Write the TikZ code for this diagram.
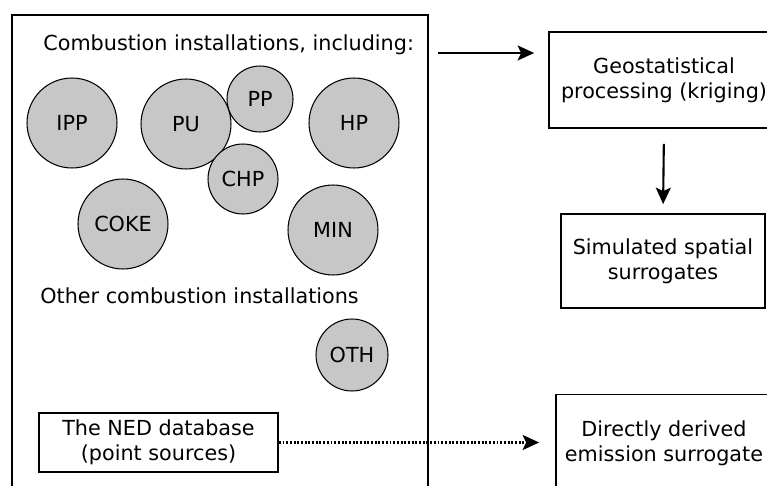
\documentclass[tikz,border=0pt]{standalone}
\usepackage{fontspec}
\setmainfont{DejaVu Sans}
\usetikzlibrary{arrows.meta}
\tikzset{
	plant/.style={circle, draw=black, line width=0.6pt, fill=black!22, inner sep=0pt, minimum size=#1},
	plant/.default=1.8cm,
	stepbox/.style={draw=black, line width=1pt, align=center, inner sep=0pt},
	flow/.style={line width=1.2pt, -{Stealth[length=3.3mm, width=3mm, inset=0.7mm]}},
}

\begin{document}
\begin{tikzpicture}[x=0.02cm, y=-0.02cm, font=\fontsize{11.8}{14.2}\selectfont]
		%%%%% START %%%%%
		\useasboundingbox (0,0) rectangle (767,486);
		\clip (0,0) rectangle (767,486);
		
		% left frame (cut at the bottom)
		\draw[line width=1pt] (12,510) -- (12,15) -- (428,15) -- (428,510);
		
		\node[anchor=west, inner sep=0pt] (incl) at (43,45) {Combustion installations, including:};
		
		\node[plant] (ipp) at (72,123) {IPP};
		\node[plant] (pu) at (186,124) {PU};
		\node[plant=1.32cm] (pp) at (260,99) {PP};
		\node[plant] (hp) at (354,123) {HP};
		\node[plant=1.4cm] (chp) at (243,179) {CHP};
		\node[plant] (coke) at (123,224) {COKE};
		\node[plant] (min) at (333,230) {MIN};
		
		\node[anchor=west, inner sep=0pt] (other) at (40,296) {Other combustion installations};
		\node[plant=1.44cm] (oth) at (352,355) {OTH};
		
		\node[stepbox, minimum width=4.78cm, minimum height=1.18cm] (ned) at (158.5,442.5) {The NED database\\(point sources)};
		
		% right column (cut at the right)
		\node[stepbox, minimum width=4.6cm, minimum height=1.92cm] (geo) at (664,80) {Geostatistical\\processing (kriging)};
		\node[stepbox, minimum width=4.08cm, minimum height=1.88cm] (sim) at (663,261) {Simulated spatial\\surrogates};
		\node[stepbox, minimum width=4.32cm, minimum height=2.3cm] (direct) at (664,452) {};
		\node[align=center] (directtxt) at (664,443) {Directly derived\\emission surrogate};
		
		\coordinate (src) at (438,53);
		\draw[flow] (src) -- ([xshift=-14*0.02cm]src -| geo.west);
		\draw[flow, shorten <=15*0.02cm, shorten >=9*0.02cm] (geo.south) -- (sim.north);
		\draw[flow, line width=1.3pt, dash pattern=on 1.1pt off 1pt] (ned.east) -- ([xshift=-16*0.02cm]ned.east -| direct.west);
		
		%%%%% END %%%%%
	\end{tikzpicture}
\end{document}
